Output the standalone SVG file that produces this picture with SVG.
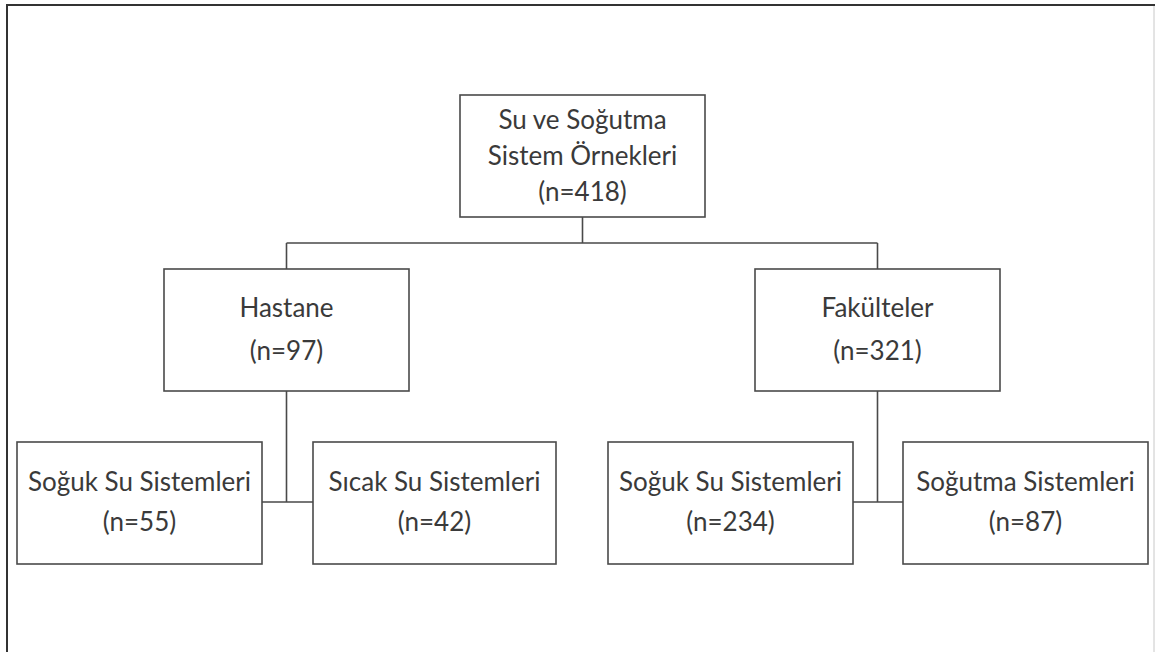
<svg xmlns="http://www.w3.org/2000/svg" width="1155" height="652" viewBox="0 0 1155 652">
<style>
.box{fill:#fff;stroke:#4a4a4a;stroke-width:1.6}
.lbl{font-family:Lato,"Open Sans",sans-serif;font-size:26px;fill:#3a3a3a;text-anchor:middle}
.conn{fill:none;stroke:#4a4a4a;stroke-width:1.6}
</style>
<rect width="1155" height="652" fill="#fff"/>
<g id="frame">
<line x1="7" y1="5" x2="1155" y2="5" stroke="#333" stroke-width="2"/>
<line x1="7" y1="4" x2="7" y2="652" stroke="#333" stroke-width="2"/>
<line x1="1154" y1="6" x2="1154" y2="652" stroke="#c8c8c8" stroke-width="1"/>
</g>
<g id="connectors">
<path class="conn" d="M582.5 217 V243 M286.5 243 H877.5 M286.5 243 V269 M877.5 243 V269"/>
<path class="conn" d="M286.5 391 V502 M262 502 H313"/>
<path class="conn" d="M877.5 391 V502 M853 502 H903"/>
</g>
<g id="root">
<rect class="box" x="460" y="95" width="245" height="122"/>
<text class="lbl" x="582.5" y="129">Su ve Soğutma</text>
<text class="lbl" x="582.5" y="165">Sistem Örnekleri</text>
<text class="lbl" x="582.5" y="201">(n=418)</text>
</g>
<g id="hastane">
<rect class="box" x="164" y="269" width="245" height="122"/>
<text class="lbl" x="286.5" y="317">Hastane</text>
<text class="lbl" x="286.5" y="360">(n=97)</text>
</g>
<g id="fakulteler">
<rect class="box" x="755" y="269" width="245" height="122"/>
<text class="lbl" x="877.5" y="317">Fakülteler</text>
<text class="lbl" x="877.5" y="360">(n=321)</text>
</g>
<g id="hastane-soguk">
<rect class="box" x="17" y="442" width="245" height="122"/>
<text class="lbl" x="139.5" y="491">Soğuk Su Sistemleri</text>
<text class="lbl" x="139.5" y="531">(n=55)</text>
</g>
<g id="hastane-sicak">
<rect class="box" x="313" y="442" width="243" height="122"/>
<text class="lbl" x="434.5" y="491">Sıcak Su Sistemleri</text>
<text class="lbl" x="434.5" y="531">(n=42)</text>
</g>
<g id="fakulte-soguk">
<rect class="box" x="608" y="442" width="245" height="122"/>
<text class="lbl" x="730.5" y="491">Soğuk Su Sistemleri</text>
<text class="lbl" x="730.5" y="531">(n=234)</text>
</g>
<g id="fakulte-sogutma">
<rect class="box" x="903" y="442" width="245" height="122"/>
<text class="lbl" x="1025.5" y="491">Soğutma Sistemleri</text>
<text class="lbl" x="1025.5" y="531">(n=87)</text>
</g>
</svg>
